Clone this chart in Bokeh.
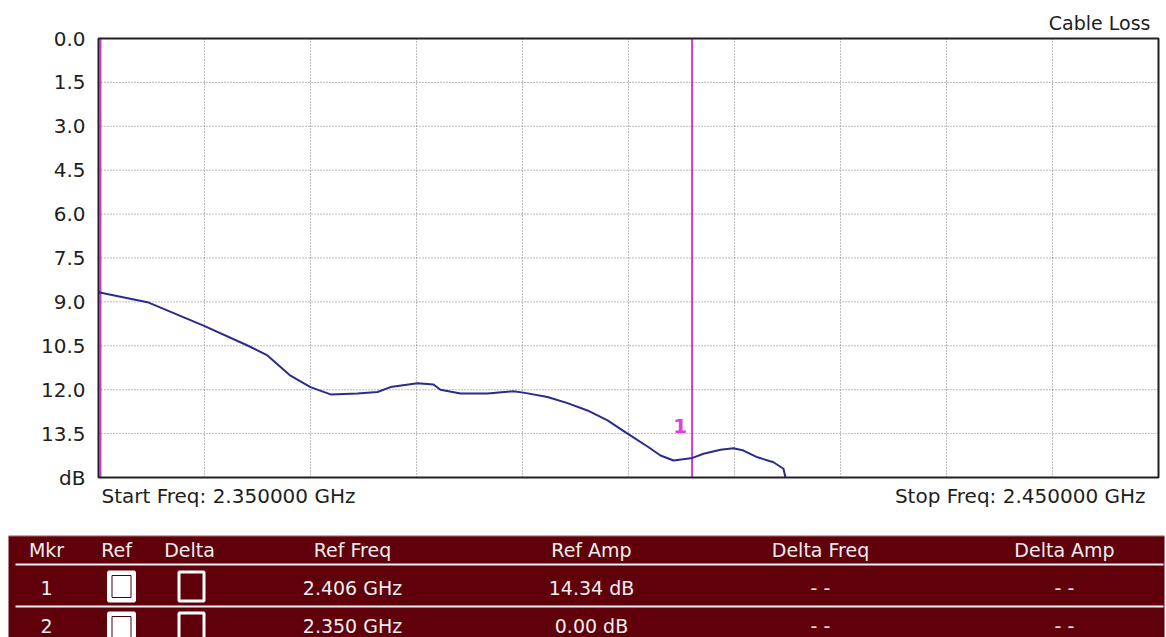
from bokeh.plotting import figure
from bokeh.models import Range1d, FixedTicker
from bokeh.layouts import column
from bokeh.embed import file_html
from bokeh.resources import INLINE
from bokeh.core.properties import value

# ---------------- data ----------------
freq_ghz = [2.35000, 2.35462, 2.35991, 2.36406, 2.36594, 2.36811, 2.37000, 2.37189,
            2.37443, 2.37632, 2.37755, 2.38009, 2.38160, 2.38226, 2.38415, 2.38670,
            2.38915, 2.39009, 2.39236, 2.39425, 2.39613, 2.39802, 2.39991, 2.40179,
            2.40302, 2.40425, 2.40604, 2.40708, 2.40868, 2.40991, 2.41085, 2.41217,
            2.41368, 2.41462, 2.41481]
loss_db = [8.67, 9.01, 9.81, 10.49, 10.83, 11.52, 11.91, 12.16,
           12.13, 12.08, 11.91, 11.78, 11.82, 12.00, 12.13, 12.13,
           12.05, 12.10, 12.25, 12.46, 12.71, 13.05, 13.50, 13.94,
           14.25, 14.42, 14.33, 14.19, 14.05, 14.00, 14.08, 14.31,
           14.48, 14.70, 15.00]

start_freq = 2.350
stop_freq = 2.450
db_top, db_bottom = 0.0, 15.0
y_ticks = [0.0, 1.5, 3.0, 4.5, 6.0, 7.5, 9.0, 10.5, 12.0, 13.5, 15.0]
y_tick_labels = ["0.0", "1.5", "3.0", "4.5", "6.0", "7.5", "9.0", "10.5", "12.0", "13.5", "dB"]
x_grid_ticks = [2.36, 2.37, 2.38, 2.39, 2.40, 2.41, 2.42, 2.43, 2.44]
y_grid_ticks = [1.5, 3.0, 4.5, 6.0, 7.5, 9.0, 10.5, 12.0, 13.5]

marker_ids = ["1", "2"]
marker_freq = [2.406, 2.350]
marker_amp = [14.34, 0.00]

chart_title = "Cable Loss"
table_headers = ["Mkr", "Ref", "Delta", "Ref Freq", "Ref Amp", "Delta Freq", "Delta Amp"]

# ---------------- styles / layout ----------------
FONT = "DejaVu Sans"
MAROON = "#5f000b"
MAGENTA = "#c63fd0"
TRACE = "#2b2b8c"
TXT = "#1e1e1e"
GRID = "#7a7a7a"
W = 1166

# plot box: 1060 x 439 px (0.1 GHz x 15 dB)
PX_X = 1060 / (stop_freq - start_freq)
PX_Y = 439 / (db_bottom - db_top)


def strip(h, bg="white"):
    s = figure(width=W, height=h, x_range=Range1d(0, W), y_range=Range1d(h, 0),
               output_backend="svg", toolbar_location=None,
               x_axis_location=None, y_axis_location=None, min_border=0,
               background_fill_color=bg, border_fill_color=bg, outline_line_color=None)
    s.grid.visible = False
    s.frame_align = False
    return s


# ---------------- chart ----------------
# frame (96..1166 px) is slightly larger than the plot box so that box, title and
# start/stop texts all fit inside it
p = figure(width=W, height=535,
           x_range=Range1d(start_freq - 2 / PX_X, stop_freq + 8 / PX_X),
           y_range=Range1d(db_bottom + 38 / PX_Y, db_top - 30 / PX_Y),
           output_backend="svg", toolbar_location=None,
           min_border_left=96, min_border_right=0, min_border_top=8, min_border_bottom=20,
           background_fill_color="white", border_fill_color="white",
           outline_line_color=None)
p.frame_align = False
p.xaxis.visible = False
p.grid.visible = False

ya = p.yaxis[0]
ya.ticker = FixedTicker(ticks=y_ticks)
ya.major_label_overrides = {t: lab for t, lab in zip(y_ticks, y_tick_labels)}
ya.axis_line_color = None
ya.major_tick_line_color = None
ya.minor_tick_line_color = None
ya.major_tick_out = 0
ya.major_tick_in = 0
ya.major_label_standoff = 11
ya.major_label_text_font = FONT
ya.major_label_text_font_size = "20px"
ya.major_label_text_color = TXT

# dotted grid inside the plot box
p.segment(x0=x_grid_ticks, y0=[db_top] * len(x_grid_ticks),
          x1=x_grid_ticks, y1=[db_bottom] * len(x_grid_ticks),
          line_color=GRID, line_dash="1 2", line_width=1)
p.segment(x0=[start_freq] * len(y_grid_ticks), y0=y_grid_ticks,
          x1=[stop_freq] * len(y_grid_ticks), y1=y_grid_ticks,
          line_color=GRID, line_dash="1 2", line_width=1)

# marker lines (the one sitting on the left edge is nudged just inside the box)
marker_draw_x = [f + 2 / PX_X if f == start_freq else f for f in marker_freq]
p.segment(x0=marker_draw_x, y0=[db_top] * len(marker_freq),
          x1=marker_draw_x, y1=[db_bottom] * len(marker_freq),
          line_color=MAGENTA, line_width=2)

# trace
p.line(freq_ghz, loss_db, line_color=TRACE, line_width=2)

# plot box
p.quad(left=[start_freq], right=[stop_freq], top=[db_top], bottom=[db_bottom],
       fill_color=None, line_color="#202020", line_width=2)

# marker numbers (the left-edge one falls outside the box and is not shown)
shown = [i for i, f in enumerate(marker_freq) if f > start_freq]
p.text(x=[marker_freq[i] - 5 / PX_X for i in shown],
       y=[13.5 - 8 / PX_Y] * len(shown), text=[marker_ids[i] for i in shown],
       text_font=value(FONT), text_font_size="20px", text_font_style="bold",
       text_color="#e03ee0", text_align="right", text_baseline="middle")

# title and start / stop texts
p.text(x=[stop_freq - 8 / PX_X], y=[db_top - 16 / PX_Y], text=[chart_title],
       text_font=value(FONT), text_font_size="19px", text_color=TXT,
       text_align="right", text_baseline="middle")
p.text(x=[start_freq + 3 / PX_X], y=[db_bottom + 18 / PX_Y],
       text=["Start Freq: %.6f GHz" % start_freq],
       text_font=value(FONT), text_font_size="20px", text_color=TXT,
       text_align="left", text_baseline="middle")
p.text(x=[stop_freq - 13 / PX_X], y=[db_bottom + 18 / PX_Y],
       text=["Stop Freq: %.6f GHz" % stop_freq],
       text_font=value(FONT), text_font_size="20px", text_color=TXT,
       text_align="right", text_baseline="middle")

# ---------------- marker table ----------------
TH = 102
t = strip(TH)
t.quad(left=[8], right=[1164], top=[0], bottom=[TH], fill_color=MAROON, line_color=None)
t.segment(x0=[8], y0=[0.5], x1=[1164], y1=[0.5], line_color="#b06a70", line_width=1)

col_x = [46, 116, 189, 352, 591, 820, 1064]
header_y = 14
row_y = [52, 90]
sep_y = [29, 71]
ref_box_x = 121
delta_box_x = 191

t.segment(x0=[15] * len(sep_y), y0=sep_y, x1=[1163] * len(sep_y), y1=sep_y,
          line_color="#f2f2f2", line_width=2)

t.text(x=col_x, y=[header_y] * len(col_x), text=table_headers,
       text_font=value(FONT), text_font_size="19px", text_color="#eeeeee",
       text_align="center", text_baseline="middle")

rows_text, rows_x, rows_yy = [], [], []
for i, (mid, f, a) in enumerate(zip(marker_ids, marker_freq, marker_amp)):
    vals = [mid, "%.3f GHz" % f, "%.2f dB" % a, "- -", "- -"]
    xs = [col_x[0], col_x[3], col_x[4], col_x[5], col_x[6]]
    rows_text += vals
    rows_x += xs
    rows_yy += [row_y[i]] * len(vals)
t.text(x=rows_x, y=rows_yy, text=rows_text,
       text_font=value(FONT), text_font_size="19px", text_color="#eeeeee",
       text_align="center", text_baseline="middle")

n = len(marker_ids)
ys = [row_y[0] - 1, row_y[1] + 2][:n]
t.rect(x=[ref_box_x] * n, y=ys, width=26, height=29, fill_color="white",
       line_color="white", line_width=3)
t.rect(x=[ref_box_x] * n, y=ys, width=19, height=22, fill_color="white",
       line_color="#4a0008", line_width=1)
t.rect(x=[delta_box_x] * n, y=ys, width=25, height=29, fill_color=MAROON,
       line_color="white", line_width=3)

layout = column(p, t, spacing=0)
open("out.html", "w").write(file_html(layout, INLINE))
